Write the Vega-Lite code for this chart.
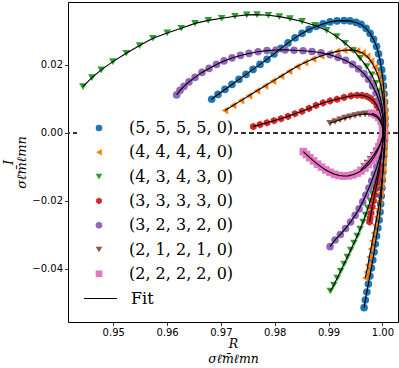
{
"$schema": "https://vega.github.io/schema/vega-lite/v6.json",
"width": 330, "height": 320,
"autosize": {"type": "none"},
"padding": {"left": 68, "top": 2, "right": 1, "bottom": 46},
"background": "white",
"config": {
 "view": {"stroke": "black", "strokeWidth": 1},
 "axis": {"grid": false, "domain": false, "tickColor": "black", "tickSize": 3.5, "tickWidth": 0.8, "labelFont": "DejaVu Sans", "labelFontSize": 10, "labelColor": "black", "labelPadding": 2, "titleFont": "DejaVu Serif", "titleFontStyle": "italic", "titleFontWeight": "normal", "titleColor": "black", "titleFontSize": 13, "titleLineHeight": 13},
 "legend": {"labelFont": "DejaVu Serif", "labelFontSize": 16, "labelColor": "black", "zindex": 2}
},
"datasets": {
"pts": [
{"s":"(5, 5, 5, 5, 0)","i":1,"x":0.96829,"y":0.00991},{"s":"(5, 5, 5, 5, 0)","i":2,"x":0.96946,"y":0.01132},{"s":"(5, 5, 5, 5, 0)","i":3,"x":0.97076,"y":0.01279},{"s":"(5, 5, 5, 5, 0)","i":4,"x":0.97206,"y":0.01426},{"s":"(5, 5, 5, 5, 0)","i":5,"x":0.97336,"y":0.01574},{"s":"(5, 5, 5, 5, 0)","i":6,"x":0.97467,"y":0.01721},{"s":"(5, 5, 5, 5, 0)","i":7,"x":0.97597,"y":0.01868},{"s":"(5, 5, 5, 5, 0)","i":8,"x":0.97727,"y":0.02015},{"s":"(5, 5, 5, 5, 0)","i":9,"x":0.97857,"y":0.02162},{"s":"(5, 5, 5, 5, 0)","i":10,"x":0.97987,"y":0.02324},
{"s":"(5, 5, 5, 5, 0)","i":11,"x":0.98117,"y":0.02485},{"s":"(5, 5, 5, 5, 0)","i":12,"x":0.98247,"y":0.02647},{"s":"(5, 5, 5, 5, 0)","i":13,"x":0.98377,"y":0.02794},{"s":"(5, 5, 5, 5, 0)","i":14,"x":0.98507,"y":0.02926},{"s":"(5, 5, 5, 5, 0)","i":15,"x":0.98638,"y":0.03044},{"s":"(5, 5, 5, 5, 0)","i":16,"x":0.98768,"y":0.03132},{"s":"(5, 5, 5, 5, 0)","i":17,"x":0.98898,"y":0.03206},{"s":"(5, 5, 5, 5, 0)","i":18,"x":0.99028,"y":0.03265},{"s":"(5, 5, 5, 5, 0)","i":19,"x":0.99158,"y":0.03294},{"s":"(5, 5, 5, 5, 0)","i":20,"x":0.99288,"y":0.03303},
{"s":"(5, 5, 5, 5, 0)","i":21,"x":0.99400,"y":0.03294},{"s":"(5, 5, 5, 5, 0)","i":22,"x":0.99511,"y":0.03250},{"s":"(5, 5, 5, 5, 0)","i":23,"x":0.99604,"y":0.03191},{"s":"(5, 5, 5, 5, 0)","i":24,"x":0.99697,"y":0.03074},{"s":"(5, 5, 5, 5, 0)","i":25,"x":0.99771,"y":0.02926},{"s":"(5, 5, 5, 5, 0)","i":26,"x":0.99836,"y":0.02750},{"s":"(5, 5, 5, 5, 0)","i":27,"x":0.99892,"y":0.02544},{"s":"(5, 5, 5, 5, 0)","i":28,"x":0.99929,"y":0.02324},{"s":"(5, 5, 5, 5, 0)","i":29,"x":0.99963,"y":0.02088},{"s":"(5, 5, 5, 5, 0)","i":30,"x":0.99987,"y":0.01853},
{"s":"(5, 5, 5, 5, 0)","i":31,"x":1.00006,"y":0.01618},{"s":"(5, 5, 5, 5, 0)","i":32,"x":1.00020,"y":0.01382},{"s":"(5, 5, 5, 5, 0)","i":33,"x":1.00032,"y":0.01147},{"s":"(5, 5, 5, 5, 0)","i":34,"x":1.00041,"y":0.00912},{"s":"(5, 5, 5, 5, 0)","i":35,"x":1.00046,"y":0.00676},{"s":"(5, 5, 5, 5, 0)","i":36,"x":1.00050,"y":0.00441},{"s":"(5, 5, 5, 5, 0)","i":37,"x":1.00050,"y":0.00235},{"s":"(5, 5, 5, 5, 0)","i":38,"x":1.00046,"y":0.0},{"s":"(5, 5, 5, 5, 0)","i":39,"x":1.00041,"y":-0.00206},{"s":"(5, 5, 5, 5, 0)","i":40,"x":1.00032,"y":-0.00441},
{"s":"(5, 5, 5, 5, 0)","i":41,"x":1.00024,"y":-0.00676},{"s":"(5, 5, 5, 5, 0)","i":42,"x":1.00017,"y":-0.00912},{"s":"(5, 5, 5, 5, 0)","i":43,"x":1.00009,"y":-0.01147},{"s":"(5, 5, 5, 5, 0)","i":44,"x":1.00000,"y":-0.01382},{"s":"(5, 5, 5, 5, 0)","i":45,"x":0.99991,"y":-0.01618},{"s":"(5, 5, 5, 5, 0)","i":46,"x":0.99980,"y":-0.01853},{"s":"(5, 5, 5, 5, 0)","i":47,"x":0.99968,"y":-0.02088},{"s":"(5, 5, 5, 5, 0)","i":48,"x":0.99957,"y":-0.02324},{"s":"(5, 5, 5, 5, 0)","i":49,"x":0.99939,"y":-0.02559},{"s":"(5, 5, 5, 5, 0)","i":50,"x":0.99916,"y":-0.02794},
{"s":"(5, 5, 5, 5, 0)","i":51,"x":0.99892,"y":-0.03029},{"s":"(5, 5, 5, 5, 0)","i":52,"x":0.99868,"y":-0.03265},{"s":"(5, 5, 5, 5, 0)","i":53,"x":0.99846,"y":-0.03500},{"s":"(5, 5, 5, 5, 0)","i":54,"x":0.99822,"y":-0.03735},{"s":"(5, 5, 5, 5, 0)","i":55,"x":0.99796,"y":-0.03971},{"s":"(5, 5, 5, 5, 0)","i":56,"x":0.99768,"y":-0.04206},{"s":"(5, 5, 5, 5, 0)","i":57,"x":0.99740,"y":-0.04441},{"s":"(5, 5, 5, 5, 0)","i":58,"x":0.99712,"y":-0.04676},{"s":"(5, 5, 5, 5, 0)","i":59,"x":0.99684,"y":-0.04912},{"s":"(5, 5, 5, 5, 0)","i":60,"x":0.99660,"y":-0.05138},

{"s":"(4, 4, 4, 4, 0)","i":1,"x":0.97076,"y":0.00662},{"s":"(4, 4, 4, 4, 0)","i":2,"x":0.97225,"y":0.00809},{"s":"(4, 4, 4, 4, 0)","i":3,"x":0.97374,"y":0.00950},{"s":"(4, 4, 4, 4, 0)","i":4,"x":0.97522,"y":0.01094},{"s":"(4, 4, 4, 4, 0)","i":5,"x":0.97671,"y":0.01238},{"s":"(4, 4, 4, 4, 0)","i":6,"x":0.97820,"y":0.01382},{"s":"(4, 4, 4, 4, 0)","i":7,"x":0.97968,"y":0.01524},{"s":"(4, 4, 4, 4, 0)","i":8,"x":0.98117,"y":0.01668},{"s":"(4, 4, 4, 4, 0)","i":9,"x":0.98266,"y":0.01812},{"s":"(4, 4, 4, 4, 0)","i":10,"x":0.98415,"y":0.01953},
{"s":"(4, 4, 4, 4, 0)","i":11,"x":0.98563,"y":0.02074},{"s":"(4, 4, 4, 4, 0)","i":12,"x":0.98712,"y":0.02176},{"s":"(4, 4, 4, 4, 0)","i":13,"x":0.98861,"y":0.02265},{"s":"(4, 4, 4, 4, 0)","i":14,"x":0.99009,"y":0.02338},{"s":"(4, 4, 4, 4, 0)","i":15,"x":0.99158,"y":0.02397},{"s":"(4, 4, 4, 4, 0)","i":16,"x":0.99288,"y":0.02432},{"s":"(4, 4, 4, 4, 0)","i":17,"x":0.99418,"y":0.02441},{"s":"(4, 4, 4, 4, 0)","i":18,"x":0.99530,"y":0.02412},{"s":"(4, 4, 4, 4, 0)","i":19,"x":0.99632,"y":0.02353},{"s":"(4, 4, 4, 4, 0)","i":20,"x":0.99716,"y":0.02250},
{"s":"(4, 4, 4, 4, 0)","i":21,"x":0.99790,"y":0.02103},{"s":"(4, 4, 4, 4, 0)","i":22,"x":0.99855,"y":0.01926},{"s":"(4, 4, 4, 4, 0)","i":23,"x":0.99907,"y":0.01735},{"s":"(4, 4, 4, 4, 0)","i":24,"x":0.99948,"y":0.01529},{"s":"(4, 4, 4, 4, 0)","i":25,"x":0.99980,"y":0.01324},{"s":"(4, 4, 4, 4, 0)","i":26,"x":1.00004,"y":0.01118},{"s":"(4, 4, 4, 4, 0)","i":27,"x":1.00022,"y":0.00912},{"s":"(4, 4, 4, 4, 0)","i":28,"x":1.00035,"y":0.00706},{"s":"(4, 4, 4, 4, 0)","i":29,"x":1.00045,"y":0.00500},{"s":"(4, 4, 4, 4, 0)","i":30,"x":1.00050,"y":0.00294},
{"s":"(4, 4, 4, 4, 0)","i":31,"x":1.00050,"y":0.00088},{"s":"(4, 4, 4, 4, 0)","i":32,"x":1.00048,"y":-0.00118},{"s":"(4, 4, 4, 4, 0)","i":33,"x":1.00043,"y":-0.00353},{"s":"(4, 4, 4, 4, 0)","i":34,"x":1.00035,"y":-0.00588},{"s":"(4, 4, 4, 4, 0)","i":35,"x":1.00024,"y":-0.00824},{"s":"(4, 4, 4, 4, 0)","i":36,"x":1.00013,"y":-0.01059},{"s":"(4, 4, 4, 4, 0)","i":37,"x":0.99998,"y":-0.01294},{"s":"(4, 4, 4, 4, 0)","i":38,"x":0.99981,"y":-0.01529},{"s":"(4, 4, 4, 4, 0)","i":39,"x":0.99965,"y":-0.01765},{"s":"(4, 4, 4, 4, 0)","i":40,"x":0.99946,"y":-0.02000},
{"s":"(4, 4, 4, 4, 0)","i":41,"x":0.99924,"y":-0.02235},{"s":"(4, 4, 4, 4, 0)","i":42,"x":0.99898,"y":-0.02471},{"s":"(4, 4, 4, 4, 0)","i":43,"x":0.99870,"y":-0.02706},{"s":"(4, 4, 4, 4, 0)","i":44,"x":0.99842,"y":-0.02941},{"s":"(4, 4, 4, 4, 0)","i":45,"x":0.99814,"y":-0.03176},{"s":"(4, 4, 4, 4, 0)","i":46,"x":0.99786,"y":-0.03412},{"s":"(4, 4, 4, 4, 0)","i":47,"x":0.99758,"y":-0.03647},{"s":"(4, 4, 4, 4, 0)","i":48,"x":0.99732,"y":-0.03882},{"s":"(4, 4, 4, 4, 0)","i":49,"x":0.99706,"y":-0.04088},{"s":"(4, 4, 4, 4, 0)","i":50,"x":0.99682,"y":-0.04265},

{"s":"(4, 3, 4, 3, 0)","i":1,"x":0.94437,"y":0.01362},{"s":"(4, 3, 4, 3, 0)","i":2,"x":0.94604,"y":0.01626},{"s":"(4, 3, 4, 3, 0)","i":3,"x":0.94777,"y":0.01853},{"s":"(4, 3, 4, 3, 0)","i":4,"x":0.94994,"y":0.02097},{"s":"(4, 3, 4, 3, 0)","i":5,"x":0.95242,"y":0.02344},{"s":"(4, 3, 4, 3, 0)","i":6,"x":0.95491,"y":0.02568},{"s":"(4, 3, 4, 3, 0)","i":7,"x":0.95738,"y":0.02785},{"s":"(4, 3, 4, 3, 0)","i":8,"x":0.96004,"y":0.02941},{"s":"(4, 3, 4, 3, 0)","i":9,"x":0.96264,"y":0.03079},{"s":"(4, 3, 4, 3, 0)","i":10,"x":0.96519,"y":0.03221},
{"s":"(4, 3, 4, 3, 0)","i":11,"x":0.96766,"y":0.03309},{"s":"(4, 3, 4, 3, 0)","i":12,"x":0.97015,"y":0.03374},{"s":"(4, 3, 4, 3, 0)","i":13,"x":0.97262,"y":0.03432},{"s":"(4, 3, 4, 3, 0)","i":14,"x":0.97480,"y":0.03471},{"s":"(4, 3, 4, 3, 0)","i":15,"x":0.97671,"y":0.03479},{"s":"(4, 3, 4, 3, 0)","i":16,"x":0.97881,"y":0.03462},{"s":"(4, 3, 4, 3, 0)","i":17,"x":0.98086,"y":0.03421},{"s":"(4, 3, 4, 3, 0)","i":18,"x":0.98284,"y":0.03362},{"s":"(4, 3, 4, 3, 0)","i":19,"x":0.98507,"y":0.03279},{"s":"(4, 3, 4, 3, 0)","i":20,"x":0.98749,"y":0.03162},
{"s":"(4, 3, 4, 3, 0)","i":21,"x":0.98967,"y":0.03015},{"s":"(4, 3, 4, 3, 0)","i":22,"x":0.99152,"y":0.02832},{"s":"(4, 3, 4, 3, 0)","i":23,"x":0.99307,"y":0.02638},{"s":"(4, 3, 4, 3, 0)","i":24,"x":0.99461,"y":0.02426},{"s":"(4, 3, 4, 3, 0)","i":25,"x":0.99586,"y":0.02197},{"s":"(4, 3, 4, 3, 0)","i":26,"x":0.99710,"y":0.01950},{"s":"(4, 3, 4, 3, 0)","i":27,"x":0.99803,"y":0.01706},{"s":"(4, 3, 4, 3, 0)","i":28,"x":0.99874,"y":0.01462},{"s":"(4, 3, 4, 3, 0)","i":29,"x":0.99929,"y":0.01215},{"s":"(4, 3, 4, 3, 0)","i":30,"x":0.99970,"y":0.00971},
{"s":"(4, 3, 4, 3, 0)","i":31,"x":0.99998,"y":0.00726},{"s":"(4, 3, 4, 3, 0)","i":32,"x":1.00017,"y":0.00500},{"s":"(4, 3, 4, 3, 0)","i":33,"x":1.00026,"y":0.00265},{"s":"(4, 3, 4, 3, 0)","i":34,"x":1.00024,"y":0.00059},{"s":"(4, 3, 4, 3, 0)","i":35,"x":1.00017,"y":-0.00147},{"s":"(4, 3, 4, 3, 0)","i":36,"x":1.00006,"y":-0.00353},{"s":"(4, 3, 4, 3, 0)","i":37,"x":0.99987,"y":-0.00559},{"s":"(4, 3, 4, 3, 0)","i":38,"x":0.99967,"y":-0.00765},{"s":"(4, 3, 4, 3, 0)","i":39,"x":0.99942,"y":-0.00971},{"s":"(4, 3, 4, 3, 0)","i":40,"x":0.99914,"y":-0.01176},
{"s":"(4, 3, 4, 3, 0)","i":41,"x":0.99883,"y":-0.01382},{"s":"(4, 3, 4, 3, 0)","i":42,"x":0.99849,"y":-0.01588},{"s":"(4, 3, 4, 3, 0)","i":43,"x":0.99814,"y":-0.01794},{"s":"(4, 3, 4, 3, 0)","i":44,"x":0.99775,"y":-0.02000},{"s":"(4, 3, 4, 3, 0)","i":45,"x":0.99732,"y":-0.02206},{"s":"(4, 3, 4, 3, 0)","i":46,"x":0.99688,"y":-0.02412},{"s":"(4, 3, 4, 3, 0)","i":47,"x":0.99639,"y":-0.02618},{"s":"(4, 3, 4, 3, 0)","i":48,"x":0.99587,"y":-0.02824},{"s":"(4, 3, 4, 3, 0)","i":49,"x":0.99532,"y":-0.03029},{"s":"(4, 3, 4, 3, 0)","i":50,"x":0.99472,"y":-0.03235},
{"s":"(4, 3, 4, 3, 0)","i":51,"x":0.99411,"y":-0.03441},{"s":"(4, 3, 4, 3, 0)","i":52,"x":0.99349,"y":-0.03647},{"s":"(4, 3, 4, 3, 0)","i":53,"x":0.99288,"y":-0.03853},{"s":"(4, 3, 4, 3, 0)","i":54,"x":0.99225,"y":-0.04059},{"s":"(4, 3, 4, 3, 0)","i":55,"x":0.99162,"y":-0.04265},{"s":"(4, 3, 4, 3, 0)","i":56,"x":0.99097,"y":-0.04471},{"s":"(4, 3, 4, 3, 0)","i":57,"x":0.99033,"y":-0.04647},

{"s":"(3, 3, 3, 3, 0)","i":1,"x":0.97602,"y":0.00185},{"s":"(3, 3, 3, 3, 0)","i":2,"x":0.97727,"y":0.00244},{"s":"(3, 3, 3, 3, 0)","i":3,"x":0.97857,"y":0.00300},{"s":"(3, 3, 3, 3, 0)","i":4,"x":0.97987,"y":0.00359},{"s":"(3, 3, 3, 3, 0)","i":5,"x":0.98117,"y":0.00418},{"s":"(3, 3, 3, 3, 0)","i":6,"x":0.98247,"y":0.00488},{"s":"(3, 3, 3, 3, 0)","i":7,"x":0.98377,"y":0.00565},{"s":"(3, 3, 3, 3, 0)","i":8,"x":0.98507,"y":0.00638},{"s":"(3, 3, 3, 3, 0)","i":9,"x":0.98638,"y":0.00721},{"s":"(3, 3, 3, 3, 0)","i":10,"x":0.98768,"y":0.00809},
{"s":"(3, 3, 3, 3, 0)","i":11,"x":0.98898,"y":0.00882},{"s":"(3, 3, 3, 3, 0)","i":12,"x":0.99028,"y":0.00941},{"s":"(3, 3, 3, 3, 0)","i":13,"x":0.99158,"y":0.00991},{"s":"(3, 3, 3, 3, 0)","i":14,"x":0.99288,"y":0.01044},{"s":"(3, 3, 3, 3, 0)","i":15,"x":0.99418,"y":0.01088},{"s":"(3, 3, 3, 3, 0)","i":16,"x":0.99530,"y":0.01109},{"s":"(3, 3, 3, 3, 0)","i":17,"x":0.99623,"y":0.01103},{"s":"(3, 3, 3, 3, 0)","i":18,"x":0.99710,"y":0.01074},{"s":"(3, 3, 3, 3, 0)","i":19,"x":0.99781,"y":0.01015},{"s":"(3, 3, 3, 3, 0)","i":20,"x":0.99846,"y":0.00926},
{"s":"(3, 3, 3, 3, 0)","i":21,"x":0.99901,"y":0.00794},{"s":"(3, 3, 3, 3, 0)","i":22,"x":0.99944,"y":0.00647},{"s":"(3, 3, 3, 3, 0)","i":23,"x":0.99976,"y":0.00471},{"s":"(3, 3, 3, 3, 0)","i":24,"x":0.99998,"y":0.00294},{"s":"(3, 3, 3, 3, 0)","i":25,"x":1.00009,"y":0.00118},{"s":"(3, 3, 3, 3, 0)","i":26,"x":1.00011,"y":-0.00059},{"s":"(3, 3, 3, 3, 0)","i":27,"x":1.00006,"y":-0.00235},{"s":"(3, 3, 3, 3, 0)","i":28,"x":0.99996,"y":-0.00412},{"s":"(3, 3, 3, 3, 0)","i":29,"x":0.99985,"y":-0.00588},{"s":"(3, 3, 3, 3, 0)","i":30,"x":0.99972,"y":-0.00765},
{"s":"(3, 3, 3, 3, 0)","i":31,"x":0.99957,"y":-0.00941},{"s":"(3, 3, 3, 3, 0)","i":32,"x":0.99941,"y":-0.01118},{"s":"(3, 3, 3, 3, 0)","i":33,"x":0.99922,"y":-0.01294},{"s":"(3, 3, 3, 3, 0)","i":34,"x":0.99901,"y":-0.01471},{"s":"(3, 3, 3, 3, 0)","i":35,"x":0.99879,"y":-0.01647},{"s":"(3, 3, 3, 3, 0)","i":36,"x":0.99857,"y":-0.01824},{"s":"(3, 3, 3, 3, 0)","i":37,"x":0.99835,"y":-0.02000},{"s":"(3, 3, 3, 3, 0)","i":38,"x":0.99812,"y":-0.02176},{"s":"(3, 3, 3, 3, 0)","i":39,"x":0.99792,"y":-0.02353},{"s":"(3, 3, 3, 3, 0)","i":40,"x":0.99773,"y":-0.02500},{"s":"(3, 3, 3, 3, 0)","i":41,"x":0.99762,"y":-0.02618},

{"s":"(3, 2, 3, 2, 0)","i":1,"x":0.96178,"y":0.01118},{"s":"(3, 2, 3, 2, 0)","i":2,"x":0.96240,"y":0.01250},{"s":"(3, 2, 3, 2, 0)","i":3,"x":0.96314,"y":0.01368},{"s":"(3, 2, 3, 2, 0)","i":4,"x":0.96407,"y":0.01500},{"s":"(3, 2, 3, 2, 0)","i":5,"x":0.96519,"y":0.01632},{"s":"(3, 2, 3, 2, 0)","i":6,"x":0.96649,"y":0.01779},{"s":"(3, 2, 3, 2, 0)","i":7,"x":0.96779,"y":0.01897},{"s":"(3, 2, 3, 2, 0)","i":8,"x":0.96918,"y":0.02015},{"s":"(3, 2, 3, 2, 0)","i":9,"x":0.97058,"y":0.02118},{"s":"(3, 2, 3, 2, 0)","i":10,"x":0.97206,"y":0.02206},
{"s":"(3, 2, 3, 2, 0)","i":11,"x":0.97364,"y":0.02279},{"s":"(3, 2, 3, 2, 0)","i":12,"x":0.97522,"y":0.02338},{"s":"(3, 2, 3, 2, 0)","i":13,"x":0.97690,"y":0.02388},{"s":"(3, 2, 3, 2, 0)","i":14,"x":0.97857,"y":0.02421},{"s":"(3, 2, 3, 2, 0)","i":15,"x":0.98024,"y":0.02438},{"s":"(3, 2, 3, 2, 0)","i":16,"x":0.98192,"y":0.02441},{"s":"(3, 2, 3, 2, 0)","i":17,"x":0.98359,"y":0.02432},{"s":"(3, 2, 3, 2, 0)","i":18,"x":0.98526,"y":0.02418},{"s":"(3, 2, 3, 2, 0)","i":19,"x":0.98693,"y":0.02394},{"s":"(3, 2, 3, 2, 0)","i":20,"x":0.98861,"y":0.02359},
{"s":"(3, 2, 3, 2, 0)","i":21,"x":0.99028,"y":0.02300},{"s":"(3, 2, 3, 2, 0)","i":22,"x":0.99177,"y":0.02221},{"s":"(3, 2, 3, 2, 0)","i":23,"x":0.99316,"y":0.02132},{"s":"(3, 2, 3, 2, 0)","i":24,"x":0.99446,"y":0.02015},{"s":"(3, 2, 3, 2, 0)","i":25,"x":0.99558,"y":0.01882},{"s":"(3, 2, 3, 2, 0)","i":26,"x":0.99660,"y":0.01735},{"s":"(3, 2, 3, 2, 0)","i":27,"x":0.99743,"y":0.01574},{"s":"(3, 2, 3, 2, 0)","i":28,"x":0.99818,"y":0.01382},{"s":"(3, 2, 3, 2, 0)","i":29,"x":0.99883,"y":0.01176},{"s":"(3, 2, 3, 2, 0)","i":30,"x":0.99935,"y":0.00971},
{"s":"(3, 2, 3, 2, 0)","i":31,"x":0.99972,"y":0.00765},{"s":"(3, 2, 3, 2, 0)","i":32,"x":0.99998,"y":0.00559},{"s":"(3, 2, 3, 2, 0)","i":33,"x":1.00013,"y":0.00353},{"s":"(3, 2, 3, 2, 0)","i":34,"x":1.00020,"y":0.00176},{"s":"(3, 2, 3, 2, 0)","i":35,"x":1.00019,"y":0.0},{"s":"(3, 2, 3, 2, 0)","i":36,"x":1.00011,"y":-0.00176},{"s":"(3, 2, 3, 2, 0)","i":37,"x":0.99996,"y":-0.00382},{"s":"(3, 2, 3, 2, 0)","i":38,"x":0.99972,"y":-0.00588},{"s":"(3, 2, 3, 2, 0)","i":39,"x":0.99939,"y":-0.00794},{"s":"(3, 2, 3, 2, 0)","i":40,"x":0.99898,"y":-0.01000},
{"s":"(3, 2, 3, 2, 0)","i":41,"x":0.99851,"y":-0.01206},{"s":"(3, 2, 3, 2, 0)","i":42,"x":0.99801,"y":-0.01412},{"s":"(3, 2, 3, 2, 0)","i":43,"x":0.99749,"y":-0.01618},{"s":"(3, 2, 3, 2, 0)","i":44,"x":0.99693,"y":-0.01824},{"s":"(3, 2, 3, 2, 0)","i":45,"x":0.99634,"y":-0.02029},{"s":"(3, 2, 3, 2, 0)","i":46,"x":0.99567,"y":-0.02235},{"s":"(3, 2, 3, 2, 0)","i":47,"x":0.99493,"y":-0.02426},{"s":"(3, 2, 3, 2, 0)","i":48,"x":0.99409,"y":-0.02618},{"s":"(3, 2, 3, 2, 0)","i":49,"x":0.99316,"y":-0.02809},{"s":"(3, 2, 3, 2, 0)","i":50,"x":0.99219,"y":-0.02985},
{"s":"(3, 2, 3, 2, 0)","i":51,"x":0.99121,"y":-0.03147},{"s":"(3, 2, 3, 2, 0)","i":52,"x":0.99028,"y":-0.03344},

{"s":"(2, 1, 2, 1, 0)","i":1,"x":0.99028,"y":0.00285},{"s":"(2, 1, 2, 1, 0)","i":2,"x":0.99121,"y":0.00338},{"s":"(2, 1, 2, 1, 0)","i":3,"x":0.99214,"y":0.00388},{"s":"(2, 1, 2, 1, 0)","i":4,"x":0.99307,"y":0.00435},{"s":"(2, 1, 2, 1, 0)","i":5,"x":0.99400,"y":0.00476},{"s":"(2, 1, 2, 1, 0)","i":6,"x":0.99493,"y":0.00512},{"s":"(2, 1, 2, 1, 0)","i":7,"x":0.99586,"y":0.00541},{"s":"(2, 1, 2, 1, 0)","i":8,"x":0.99678,"y":0.00559},{"s":"(2, 1, 2, 1, 0)","i":9,"x":0.99762,"y":0.00553},{"s":"(2, 1, 2, 1, 0)","i":10,"x":0.99836,"y":0.00521},
{"s":"(2, 1, 2, 1, 0)","i":11,"x":0.99901,"y":0.00456},{"s":"(2, 1, 2, 1, 0)","i":12,"x":0.99952,"y":0.00359},{"s":"(2, 1, 2, 1, 0)","i":13,"x":0.99987,"y":0.00241},{"s":"(2, 1, 2, 1, 0)","i":14,"x":1.00007,"y":0.00118},{"s":"(2, 1, 2, 1, 0)","i":15,"x":1.00011,"y":0.0},{"s":"(2, 1, 2, 1, 0)","i":16,"x":1.00000,"y":-0.00132},{"s":"(2, 1, 2, 1, 0)","i":17,"x":0.99972,"y":-0.00265},{"s":"(2, 1, 2, 1, 0)","i":18,"x":0.99933,"y":-0.00397},{"s":"(2, 1, 2, 1, 0)","i":19,"x":0.99887,"y":-0.00529},{"s":"(2, 1, 2, 1, 0)","i":20,"x":0.99835,"y":-0.00656},
{"s":"(2, 1, 2, 1, 0)","i":21,"x":0.99779,"y":-0.00776},{"s":"(2, 1, 2, 1, 0)","i":22,"x":0.99721,"y":-0.00888},{"s":"(2, 1, 2, 1, 0)","i":23,"x":0.99660,"y":-0.00991},{"s":"(2, 1, 2, 1, 0)","i":24,"x":0.99595,"y":-0.01088},

{"s":"(2, 2, 2, 2, 0)","i":1,"x":0.99803,"y":0.00579},{"s":"(2, 2, 2, 2, 0)","i":2,"x":0.99874,"y":0.00535},{"s":"(2, 2, 2, 2, 0)","i":3,"x":0.99933,"y":0.00456},{"s":"(2, 2, 2, 2, 0)","i":4,"x":0.99976,"y":0.00347},{"s":"(2, 2, 2, 2, 0)","i":5,"x":1.00002,"y":0.00221},{"s":"(2, 2, 2, 2, 0)","i":6,"x":1.00013,"y":0.00088},{"s":"(2, 2, 2, 2, 0)","i":7,"x":1.00011,"y":-0.00044},{"s":"(2, 2, 2, 2, 0)","i":8,"x":0.99994,"y":-0.00176},{"s":"(2, 2, 2, 2, 0)","i":9,"x":0.99968,"y":-0.00309},{"s":"(2, 2, 2, 2, 0)","i":10,"x":0.99935,"y":-0.00441},
{"s":"(2, 2, 2, 2, 0)","i":11,"x":0.99894,"y":-0.00574},{"s":"(2, 2, 2, 2, 0)","i":12,"x":0.99849,"y":-0.00700},{"s":"(2, 2, 2, 2, 0)","i":13,"x":0.99799,"y":-0.00818},{"s":"(2, 2, 2, 2, 0)","i":14,"x":0.99740,"y":-0.00929},{"s":"(2, 2, 2, 2, 0)","i":15,"x":0.99675,"y":-0.01029},{"s":"(2, 2, 2, 2, 0)","i":16,"x":0.99604,"y":-0.01115},{"s":"(2, 2, 2, 2, 0)","i":17,"x":0.99530,"y":-0.01182},{"s":"(2, 2, 2, 2, 0)","i":18,"x":0.99450,"y":-0.01232},{"s":"(2, 2, 2, 2, 0)","i":19,"x":0.99366,"y":-0.01262},{"s":"(2, 2, 2, 2, 0)","i":20,"x":0.99281,"y":-0.01268},
{"s":"(2, 2, 2, 2, 0)","i":21,"x":0.99195,"y":-0.01253},{"s":"(2, 2, 2, 2, 0)","i":22,"x":0.99112,"y":-0.01215},{"s":"(2, 2, 2, 2, 0)","i":23,"x":0.99028,"y":-0.01159},{"s":"(2, 2, 2, 2, 0)","i":24,"x":0.98948,"y":-0.01088},{"s":"(2, 2, 2, 2, 0)","i":25,"x":0.98870,"y":-0.01006},{"s":"(2, 2, 2, 2, 0)","i":26,"x":0.98796,"y":-0.00918},{"s":"(2, 2, 2, 2, 0)","i":27,"x":0.98721,"y":-0.00824},{"s":"(2, 2, 2, 2, 0)","i":28,"x":0.98652,"y":-0.00729},{"s":"(2, 2, 2, 2, 0)","i":29,"x":0.98589,"y":-0.00635},{"s":"(2, 2, 2, 2, 0)","i":30,"x":0.98532,"y":-0.00550}
]
},
"data": {"name": "pts"},
"encoding": {
 "x": {"field": "x", "type": "quantitative", "scale": {"domain": [0.9416, 1.0029], "nice": false, "zero": false},
   "axis": {"values": [0.95, 0.96, 0.97, 0.98, 0.99, 1.0], "format": ".2f", "title": ["R\u00a0\u00a0\u00a0\u00a0\u00a0", "\u03c3\u2113\u0304m\u0304\u2113mn"], "titlePadding": 0, "titleFontSize": 12.5, "titleLineHeight": 15}},
 "y": {"field": "y", "type": "quantitative", "scale": {"domain": [-0.0556, 0.0385], "nice": false, "zero": false},
   "axis": {"values": [-0.04, -0.02, 0.0, 0.02], "format": ".2f", "title": ["I\u00a0\u00a0\u00a0\u00a0\u00a0", "\u03c3\u2113\u0304m\u0304\u2113mn"], "titlePadding": 3}}
},
"layer": [
 {"mark": {"type": "rule", "strokeDash": [5, 3], "color": "#333333", "strokeWidth": 1},
  "encoding": {"y": {"datum": 0}, "x": null}},
 {"mark": {"type": "point", "filled": true, "opacity": 1, "size": 58},
  "encoding": {
   "color": {"field": "s", "type": "nominal",
     "scale": {"domain": ["(5, 5, 5, 5, 0)", "(4, 4, 4, 4, 0)", "(4, 3, 4, 3, 0)", "(3, 3, 3, 3, 0)", "(3, 2, 3, 2, 0)", "(2, 1, 2, 1, 0)", "(2, 2, 2, 2, 0)"],
               "range": ["#1f77b4", "#ff7f0e", "#2ca02c", "#d62728", "#9467bd", "#8c564b", "#e377c2"]},
     "legend": {"title": null, "orient": "none", "legendX": 9, "legendY": 118, "symbolOffset": 14, "symbolSize": 44, "labelOffset": 22, "rowPadding": 8.3, "padding": 0, "fillColor": "white", "symbolStrokeWidth": 0, "zindex": 2}},
   "shape": {"field": "s", "type": "nominal",
     "scale": {"domain": ["(5, 5, 5, 5, 0)", "(4, 4, 4, 4, 0)", "(4, 3, 4, 3, 0)", "(3, 3, 3, 3, 0)", "(3, 2, 3, 2, 0)", "(2, 1, 2, 1, 0)", "(2, 2, 2, 2, 0)"],
               "range": ["circle", "triangle-left", "triangle-down", "M0,-1L0.866,-0.5L0.866,0.5L0,1L-0.866,0.5L-0.866,-0.5Z", "circle", "triangle-down", "square"]},
     "legend": {"title": null, "orient": "none", "legendX": 9, "legendY": 118, "symbolOffset": 14, "symbolSize": 44, "labelOffset": 22, "rowPadding": 8.3, "padding": 0, "fillColor": "white", "symbolStrokeWidth": 0, "zindex": 2}}
  }},
 {"mark": {"type": "line", "strokeWidth": 1.1},
  "encoding": {
   "detail": {"field": "s"},
   "order": {"field": "i", "type": "quantitative"},
   "stroke": {"datum": "Fit", "type": "nominal", "scale": {"range": ["black"]},
     "legend": {"title": null, "orient": "none", "legendX": 15, "legendY": 279, "symbolType": "stroke", "symbolSize": 1100, "symbolStrokeWidth": 1.1, "labelOffset": 13, "padding": 0, "fillColor": "white", "zindex": 2}}
  }}
]
}
